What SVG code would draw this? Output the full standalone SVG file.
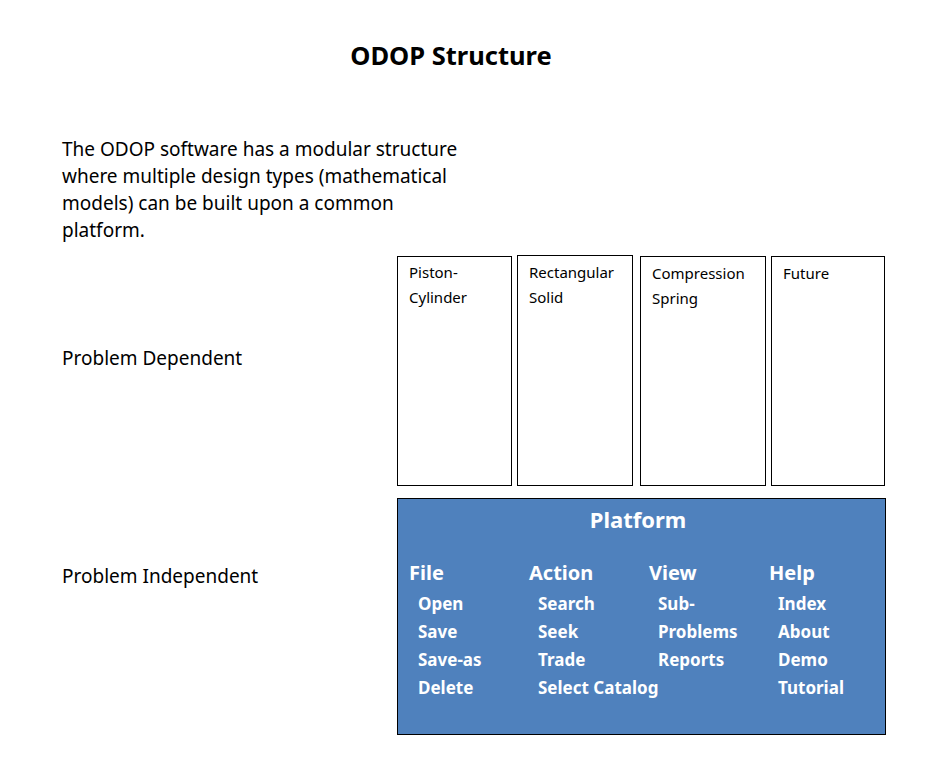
<svg xmlns="http://www.w3.org/2000/svg" width="937" height="784" viewBox="0 0 937 784">
<style>
text{font-family:"Noto Sans","Open Sans","DejaVu Sans",sans-serif;fill:#000}
.title{font-size:25.5px;font-weight:bold}
.body{font-size:19px}
.box{fill:#fff;stroke:#000;stroke-width:1}
.bl{font-size:15px}
.plat{fill:#4F81BD;stroke:#000;stroke-width:1}
.pt{font-size:22px;font-weight:bold;fill:#fff}
.mh{font-size:20px;font-weight:bold;fill:#fff}
.mi{font-size:17px;font-weight:bold;fill:#fff}
</style>
<rect width="937" height="784" fill="#fff"/>
<text class="title" x="451" y="65" text-anchor="middle">ODOP Structure</text>
<g id="intro">
<text class="body" x="62" y="156">The ODOP software has a modular structure</text>
<text class="body" x="62" y="183">where multiple design types (mathematical</text>
<text class="body" x="62" y="210">models) can be built upon a common</text>
<text class="body" x="62" y="237">platform.</text>
</g>
<text class="body" x="62" y="365">Problem Dependent</text>
<text class="body" x="62" y="583">Problem Independent</text>
<g id="piston">
<rect class="box" x="397.5" y="256.5" width="114" height="229"/>
<text class="bl" x="409" y="278">Piston-</text>
<text class="bl" x="409" y="303">Cylinder</text>
</g>
<g id="rect">
<rect class="box" x="517.5" y="255.5" width="115" height="230"/>
<text class="bl" x="529" y="278">Rectangular</text>
<text class="bl" x="529" y="303">Solid</text>
</g>
<g id="spring">
<rect class="box" x="640.5" y="256.5" width="125" height="229"/>
<text class="bl" x="652" y="279">Compression</text>
<text class="bl" x="652" y="304">Spring</text>
</g>
<g id="future">
<rect class="box" x="771.5" y="256.5" width="113" height="229"/>
<text class="bl" x="783" y="279">Future</text>
</g>
<g id="platform">
<rect class="plat" x="397.5" y="498.5" width="488" height="236"/>
<text class="pt" x="638" y="528" text-anchor="middle">Platform</text>
<text class="mh" x="409" y="580">File</text>
<text class="mi" x="418" y="610">Open</text>
<text class="mi" x="418" y="638">Save</text>
<text class="mi" x="418" y="666">Save-as</text>
<text class="mi" x="418" y="694">Delete</text>
<text class="mh" x="529" y="580">Action</text>
<text class="mi" x="538" y="610">Search</text>
<text class="mi" x="538" y="638">Seek</text>
<text class="mi" x="538" y="666">Trade</text>
<text class="mi" x="538" y="694">Select Catalog</text>
<text class="mh" x="649" y="580">View</text>
<text class="mi" x="658" y="610">Sub-</text>
<text class="mi" x="658" y="638">Problems</text>
<text class="mi" x="658" y="666">Reports</text>
<text class="mh" x="769" y="580">Help</text>
<text class="mi" x="778" y="610">Index</text>
<text class="mi" x="778" y="638">About</text>
<text class="mi" x="778" y="666">Demo</text>
<text class="mi" x="778" y="694">Tutorial</text>
</g>
</svg>
